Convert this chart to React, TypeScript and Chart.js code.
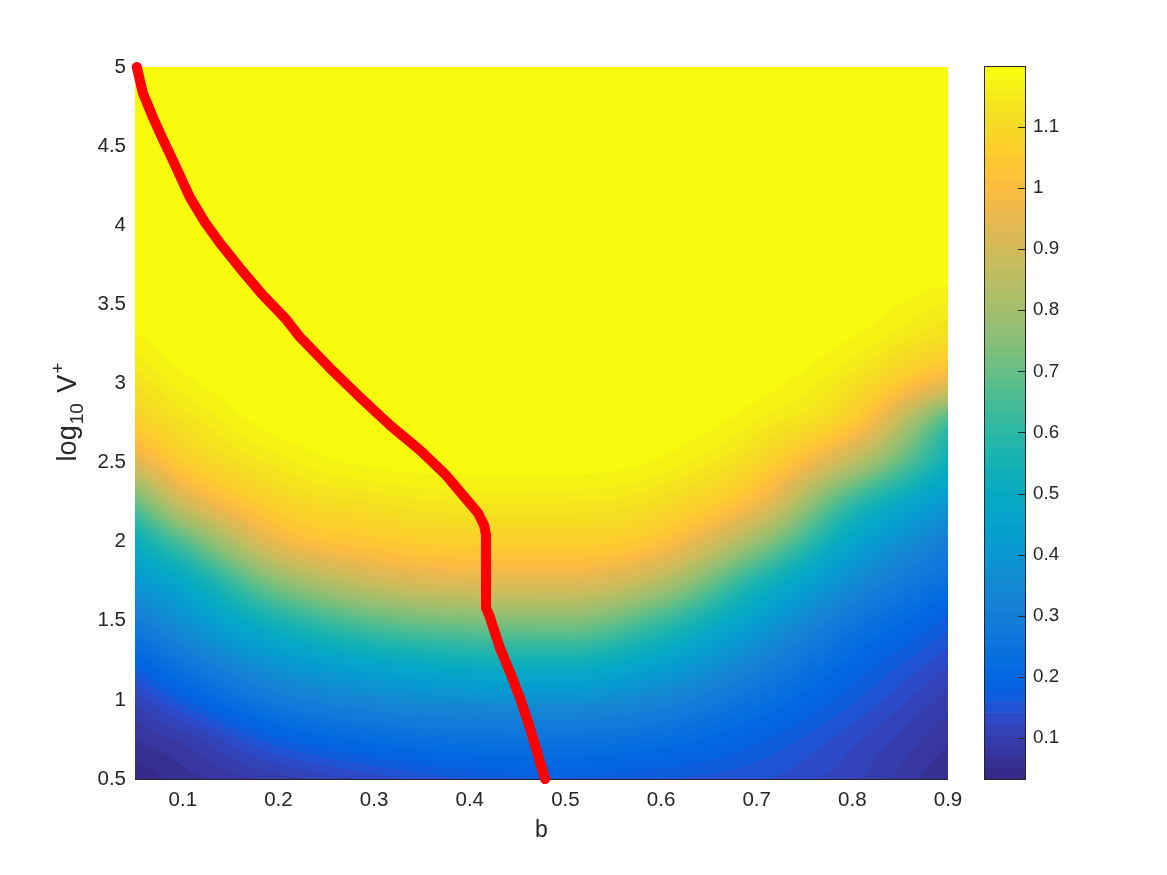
import React, { useEffect, useRef } from 'react';
import { Chart, registerables } from 'chart.js';

Chart.register(...registerables);

const FONT = "'Liberation Sans', Arial, Helvetica, sans-serif";
const TEXT = 'rgb(38,38,38)';

// ---- axes / ticks ----
const bMin = 0.05;
const bMax = 0.9;
const logVMin = 0.5;
const logVMax = 5;
const xTickValues = [0.1, 0.2, 0.3, 0.4, 0.5, 0.6, 0.7, 0.8, 0.9];
const xTickLabels = ['0.1', '0.2', '0.3', '0.4', '0.5', '0.6', '0.7', '0.8', '0.9'];
const yTickValues = [0.5, 1, 1.5, 2, 2.5, 3, 3.5, 4, 4.5, 5];
const yTickLabels = ['0.5', '1', '1.5', '2', '2.5', '3', '3.5', '4', '4.5', '5'];
const colorTickValues = [0.1, 0.2, 0.3, 0.4, 0.5, 0.6, 0.7, 0.8, 0.9, 1.0, 1.1];
const colorTickLabels = ['0.1', '0.2', '0.3', '0.4', '0.5', '0.6', '0.7', '0.8', '0.9', '1', '1.1'];
const colorMin = 0.033;
const colorMax = 1.198;

// ---- field grid ----
const bColumns = [0.05, 0.1, 0.2, 0.3, 0.4, 0.5, 0.6, 0.7, 0.8, 0.9];
const logVRows = [0.5, 0.75, 1, 1.25, 1.5, 1.75, 2, 2.25, 2.5, 2.75, 3, 3.25, 3.5, 3.75, 4, 4.25, 4.5, 4.75, 5];
const fieldAtB005 = [0.035, 0.07, 0.11, 0.193, 0.292, 0.404, 0.514, 0.695, 0.925, 1.063, 1.126, 1.171, 1.194, 1.2, 1.2, 1.2, 1.2, 1.2, 1.2];
const fieldAtB010 = [0.06, 0.093, 0.171, 0.271, 0.378, 0.487, 0.668, 0.894, 1.052, 1.124, 1.171, 1.194, 1.2, 1.2, 1.2, 1.2, 1.2, 1.2, 1.2];
const fieldAtB020 = [0.095, 0.176, 0.286, 0.406, 0.56, 0.758, 0.96, 1.08, 1.151, 1.19, 1.199, 1.2, 1.2, 1.2, 1.2, 1.2, 1.2, 1.2, 1.2];
const fieldAtB030 = [0.13, 0.223, 0.344, 0.488, 0.683, 0.888, 1.04, 1.126, 1.185, 1.197, 1.2, 1.2, 1.2, 1.2, 1.2, 1.2, 1.2, 1.2, 1.2];
const fieldAtB040 = [0.16, 0.248, 0.371, 0.538, 0.733, 0.933, 1.067, 1.145, 1.19, 1.199, 1.2, 1.2, 1.2, 1.2, 1.2, 1.2, 1.2, 1.2, 1.2];
const fieldAtB050 = [0.175, 0.252, 0.376, 0.547, 0.746, 0.936, 1.067, 1.144, 1.19, 1.199, 1.2, 1.2, 1.2, 1.2, 1.2, 1.2, 1.2, 1.2, 1.2];
const fieldAtB060 = [0.16, 0.232, 0.33, 0.461, 0.629, 0.841, 1.017, 1.113, 1.175, 1.195, 1.2, 1.2, 1.2, 1.2, 1.2, 1.2, 1.2, 1.2, 1.2];
const fieldAtB070 = [0.145, 0.184, 0.245, 0.328, 0.433, 0.575, 0.783, 0.979, 1.092, 1.159, 1.19, 1.199, 1.2, 1.2, 1.2, 1.2, 1.2, 1.2, 1.2];
const fieldAtB080 = [0.11, 0.13, 0.165, 0.207, 0.271, 0.36, 0.468, 0.617, 0.85, 1.04, 1.126, 1.175, 1.195, 1.2, 1.2, 1.2, 1.2, 1.2, 1.2];
const fieldAtB090 = [0.05, 0.072, 0.097, 0.13, 0.172, 0.235, 0.3, 0.4, 0.523, 0.636, 0.94, 1.1, 1.159, 1.194, 1.2, 1.2, 1.2, 1.2, 1.2];

// ---- red curve ----
const curveB = [0.0519, 0.0582, 0.0686, 0.078, 0.0895, 0.1073, 0.123, 0.1387, 0.1596, 0.1826, 0.2067, 0.2224, 0.2538, 0.2851, 0.3165, 0.3479, 0.3741, 0.3971, 0.4086, 0.4149, 0.417, 0.417, 0.4211, 0.4243, 0.4316, 0.442, 0.4525, 0.463, 0.4713, 0.4787];
const curveLogV = [5.0, 4.836, 4.684, 4.558, 4.412, 4.178, 4.02, 3.888, 3.73, 3.565, 3.414, 3.293, 3.097, 2.914, 2.737, 2.579, 2.427, 2.263, 2.181, 2.105, 2.042, 1.581, 1.524, 1.461, 1.328, 1.176, 1.012, 0.822, 0.651, 0.5];

// parula(64) colormap
const PARULA: number[][] = [
  [0.2081, 0.1663, 0.5292], [0.2116, 0.1898, 0.5777], [0.2123, 0.2138, 0.627], [0.2081, 0.2386, 0.6771],
  [0.1959, 0.2645, 0.7279], [0.1707, 0.2919, 0.7792], [0.1253, 0.3242, 0.8303], [0.0591, 0.3598, 0.8683],
  [0.0117, 0.3875, 0.882], [0.006, 0.4086, 0.8828], [0.0165, 0.4266, 0.8786], [0.0329, 0.443, 0.872],
  [0.0498, 0.4586, 0.8641], [0.0629, 0.4737, 0.8554], [0.0723, 0.4887, 0.8467], [0.0779, 0.504, 0.8384],
  [0.0793, 0.52, 0.8312], [0.0749, 0.5375, 0.8263], [0.0641, 0.557, 0.824], [0.0488, 0.5772, 0.8228],
  [0.0343, 0.5966, 0.8199], [0.0265, 0.6137, 0.8135], [0.0239, 0.6287, 0.8038], [0.0231, 0.6418, 0.7913],
  [0.0228, 0.6535, 0.7768], [0.0267, 0.6642, 0.7607], [0.0384, 0.6743, 0.7436], [0.059, 0.6838, 0.7254],
  [0.0843, 0.6928, 0.7062], [0.1133, 0.7015, 0.6859], [0.1453, 0.7098, 0.6646], [0.1801, 0.7177, 0.6424],
  [0.2178, 0.725, 0.6193], [0.2586, 0.7317, 0.5954], [0.3022, 0.7376, 0.5712], [0.3482, 0.7424, 0.5473],
  [0.3953, 0.7459, 0.5244], [0.442, 0.7481, 0.5033], [0.4871, 0.7491, 0.484], [0.53, 0.7491, 0.4661],
  [0.5709, 0.7485, 0.4494], [0.6099, 0.7473, 0.4337], [0.6473, 0.7456, 0.4188], [0.6834, 0.7435, 0.4044],
  [0.7184, 0.7411, 0.3905], [0.7525, 0.7384, 0.3768], [0.7858, 0.7356, 0.3633], [0.8185, 0.7327, 0.3498],
  [0.8507, 0.7299, 0.336], [0.8824, 0.7274, 0.3217], [0.9139, 0.7258, 0.3063], [0.945, 0.7261, 0.2886],
  [0.9739, 0.7314, 0.2666], [0.9938, 0.7455, 0.2403], [0.999, 0.7653, 0.2164], [0.9955, 0.7861, 0.1967],
  [0.988, 0.8066, 0.1794], [0.9789, 0.8271, 0.1633], [0.9697, 0.8481, 0.1475], [0.9626, 0.8705, 0.1309],
  [0.9589, 0.8949, 0.1132], [0.9598, 0.9218, 0.0948], [0.9661, 0.9514, 0.0755], [0.9763, 0.9831, 0.0538],
];

function labelFor(values: number[], labels: string[], v: number): string {
  for (let i = 0; i < values.length; i++) if (Math.abs(values[i] - v) < 1e-9) return labels[i];
  return '';
}

// monotone cubic (Fritsch–Carlson) evaluation, used only for smooth shading between grid values
function makeSlopes(xs: number[], ys: number[]): number[] {
  const n = xs.length;
  const d: number[] = [];
  for (let k = 0; k < n - 1; k++) d.push((ys[k + 1] - ys[k]) / (xs[k + 1] - xs[k]));
  const m: number[] = new Array(n);
  m[0] = d[0];
  m[n - 1] = d[n - 2];
  for (let k = 1; k < n - 1; k++) {
    m[k] = d[k - 1] * d[k] <= 0 ? 0 : (d[k - 1] + d[k]) / 2;
  }
  for (let k = 0; k < n - 1; k++) {
    if (d[k] === 0) {
      m[k] = 0;
      m[k + 1] = 0;
      continue;
    }
    const a = m[k] / d[k];
    const b = m[k + 1] / d[k];
    const s = a * a + b * b;
    if (s > 9) {
      const t = 3 / Math.sqrt(s);
      m[k] = t * a * d[k];
      m[k + 1] = t * b * d[k];
    }
  }
  return m;
}

function evalCubic(xs: number[], ys: number[], m: number[], x: number): number {
  const n = xs.length;
  if (x <= xs[0]) return ys[0];
  if (x >= xs[n - 1]) return ys[n - 1];
  let i = 0;
  while (i < n - 2 && x > xs[i + 1]) i++;
  const h = xs[i + 1] - xs[i];
  const t = (x - xs[i]) / h;
  const t2 = t * t;
  const t3 = t2 * t;
  return (2 * t3 - 3 * t2 + 1) * ys[i] + (t3 - 2 * t2 + t) * h * m[i] + (-2 * t3 + 3 * t2) * ys[i + 1] + (t3 - t2) * h * m[i + 1];
}

function colorIndex(v: number): number {
  let k = Math.floor(((v - colorMin) / (colorMax - colorMin)) * PARULA.length);
  if (k < 0) k = 0;
  if (k > PARULA.length - 1) k = PARULA.length - 1;
  return k;
}

export default function App() {
  const ref = useRef<HTMLCanvasElement>(null);

  useEffect(() => {
    const canvas = ref.current;
    if (!canvas) return;
    const fieldColumns = [fieldAtB005, fieldAtB010, fieldAtB020, fieldAtB030, fieldAtB040, fieldAtB050, fieldAtB060, fieldAtB070, fieldAtB080, fieldAtB090];
    const rowSeries = logVRows.map((_, r) => fieldColumns.map((col) => col[r]));
    const rowSlopes = rowSeries.map((ys) => makeSlopes(bColumns, ys));

    const heatmapPlugin = {
      id: 'heatmap',
      beforeDatasetsDraw(chart: any) {
        const { ctx, chartArea } = chart;
        const xs = chart.scales.x;
        const ys = chart.scales.y;
        const left = Math.round(chartArea.left);
        const top = Math.round(chartArea.top);
        const w = Math.round(chartArea.right) - left;
        const h = Math.round(chartArea.bottom) - top;
        const off = document.createElement('canvas');
        off.width = w;
        off.height = h;
        const octx = off.getContext('2d')!;
        const img = octx.createImageData(w, h);
        const colVals: number[] = new Array(logVRows.length);
        const rowV: number[] = new Array(h);
        for (let j = 0; j < h; j++) rowV[j] = ys.getValueForPixel(top + j + 0.5);
        for (let i = 0; i < w; i++) {
          const b = xs.getValueForPixel(left + i + 0.5);
          for (let r = 0; r < logVRows.length; r++) colVals[r] = evalCubic(bColumns, rowSeries[r], rowSlopes[r], b);
          const colSlopes = makeSlopes(logVRows, colVals);
          for (let j = 0; j < h; j++) {
            const val = evalCubic(logVRows, colVals, colSlopes, rowV[j]);
            const c = PARULA[colorIndex(val)];
            const idx = (j * w + i) * 4;
            img.data[idx] = Math.round(c[0] * 255);
            img.data[idx + 1] = Math.round(c[1] * 255);
            img.data[idx + 2] = Math.round(c[2] * 255);
            img.data[idx + 3] = 255;
          }
        }
        octx.putImageData(img, 0, 0);
        ctx.save();
        ctx.drawImage(off, left, top);
        ctx.fillStyle = TEXT;
        ctx.fillRect(left, top + h, w, 1);
        ctx.restore();
      },
      afterDraw(chart: any) {
        const { ctx } = chart;
        const s = chart.scales.y2;
        const x0 = 984;
        const x1 = 1025;
        ctx.save();
        const n = PARULA.length;
        for (let k = 0; k < n; k++) {
          const v0 = colorMin + (k * (colorMax - colorMin)) / n;
          const v1 = colorMin + ((k + 1) * (colorMax - colorMin)) / n;
          const y0 = s.getPixelForValue(v0);
          const y1 = s.getPixelForValue(v1);
          const c = PARULA[k];
          ctx.fillStyle = `rgb(${Math.round(c[0] * 255)},${Math.round(c[1] * 255)},${Math.round(c[2] * 255)})`;
          ctx.fillRect(x0, y1, x1 - x0, y0 - y1 + 0.6);
        }
        ctx.strokeStyle = TEXT;
        ctx.lineWidth = 1;
        const yt = s.getPixelForValue(colorMax);
        const yb = s.getPixelForValue(colorMin);
        ctx.strokeRect(x0 + 0.5, Math.round(yt) - 0.5, x1 - x0, Math.round(yb - yt) + 1);
        ctx.beginPath();
        for (const v of colorTickValues) {
          const y = Math.round(s.getPixelForValue(v)) + 0.5;
          ctx.moveTo(x1 - 7, y);
          ctx.lineTo(x1, y);
        }
        ctx.stroke();

        // y-axis title: log_{10} V^{+}
        const big = 27;
        const small = 19;
        const parts = [
          { t: 'log', size: big, dy: 0, gap: 1 },
          { t: '10', size: small, dy: 7, gap: 3 },
          { t: ' V', size: big, dy: 0, gap: 1 },
          { t: '+', size: small, dy: -12, gap: 0 },
        ];
        let total = 0;
        for (const p of parts) {
          ctx.font = `${p.size}px ${FONT}`;
          total += ctx.measureText(p.t).width + p.gap;
        }
        const cy = 412;
        ctx.translate(76, cy + total / 2);
        ctx.rotate(-Math.PI / 2);
        ctx.fillStyle = TEXT;
        ctx.textBaseline = 'alphabetic';
        ctx.textAlign = 'left';
        let x = 0;
        for (const p of parts) {
          ctx.font = `${p.size}px ${FONT}`;
          ctx.fillText(p.t, x, p.dy);
          x += ctx.measureText(p.t).width + p.gap;
        }
        ctx.restore();
      },
    };

    const chart = new Chart(canvas, {
      type: 'line',
      data: {
        datasets: [
          {
            data: curveB.map((b, i) => ({ x: b, y: curveLogV[i] })),
            borderColor: 'rgb(255,0,0)',
            backgroundColor: 'rgb(255,0,0)',
            borderWidth: 10,
            pointRadius: 0,
            borderJoinStyle: 'round',
            borderCapStyle: 'round',
            tension: 0,
            fill: false,
            clip: 5,
            xAxisID: 'x',
            yAxisID: 'y',
          } as any,
        ],
      },
      options: {
        responsive: false,
        animation: false,
        devicePixelRatio: 1,
        layout: { padding: { top: 67, left: 0, right: 0, bottom: 0 } },
        plugins: { legend: { display: false }, tooltip: { enabled: false } },
        events: [],
        scales: {
          x: {
            type: 'linear',
            position: 'bottom',
            min: bMin,
            max: bMax,
            afterBuildTicks: (s: any) => {
              s.ticks = xTickValues.map((v) => ({ value: v }));
            },
            afterFit: (s: any) => {
              s.height = 96;
            },
            grid: { display: false, drawTicks: false },
            border: { display: false },
            ticks: {
              autoSkip: false,
              maxRotation: 0,
              padding: 9,
              color: TEXT,
              font: { family: FONT, size: 20.5 },
              callback: (v: any) => labelFor(xTickValues, xTickLabels, Number(v)),
            },
            title: {
              display: true,
              text: 'b',
              color: TEXT,
              font: { family: FONT, size: 23 },
              padding: { top: 0, bottom: 31 },
            },
          },
          y: {
            type: 'linear',
            position: 'left',
            min: logVMin,
            max: logVMax,
            afterBuildTicks: (s: any) => {
              s.ticks = yTickValues.map((v) => ({ value: v }));
            },
            afterFit: (s: any) => {
              s.width = 135;
              s.paddingTop = 0;
              s.paddingBottom = 0;
            },
            grid: { display: false, drawTicks: false },
            border: { display: false },
            ticks: {
              autoSkip: false,
              padding: 9,
              color: TEXT,
              font: { family: FONT, size: 20.5 },
              callback: (v: any) => labelFor(yTickValues, yTickLabels, Number(v)),
            },
          },
          y2: {
            type: 'linear',
            position: 'right',
            min: colorMin,
            max: colorMax,
            afterBuildTicks: (s: any) => {
              s.ticks = colorTickValues.map((v) => ({ value: v }));
            },
            afterFit: (s: any) => {
              s.width = 219;
              s.paddingTop = 0;
              s.paddingBottom = 0;
            },
            grid: { display: false, drawTicks: false },
            border: { display: false },
            ticks: {
              autoSkip: false,
              padding: 85,
              color: TEXT,
              font: { family: FONT, size: 18.75 },
              callback: (v: any) => labelFor(colorTickValues, colorTickLabels, Number(v)),
            },
          },
        },
      } as any,
      plugins: [heatmapPlugin],
    });

    return () => {
      chart.destroy();
    };
  }, []);

  return (
    <div style={{ position: 'absolute', left: 0, top: 0, width: 1167, height: 875, background: '#fff' }}>
      <canvas ref={ref} width={1167} height={875} style={{ display: 'block' }} />
    </div>
  );
}
